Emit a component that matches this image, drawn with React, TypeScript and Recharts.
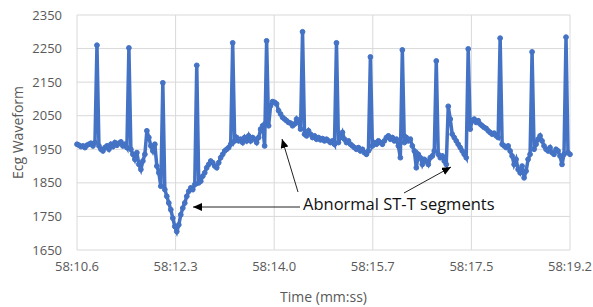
import React from 'react'
import { LineChart, Line, XAxis, YAxis, CartesianGrid } from 'recharts'

// ECG samples, evenly spaced from 58:10.6 to 58:19.2
const ecgSamples = [
  1965, 1962, 1958, 1960, 1955, 1962, 1965, 1968, 1960, 1970,
  2260,
  1960, 1950, 1945, 1955, 1960, 1950, 1965, 1958, 1970, 1962, 1968, 1972, 1960, 1965, 1955,
  2252,
  1950, 1935, 1920, 1940, 1905, 1890, 1915, 1935, 2005, 1985, 1960, 1945, 1965, 1900, 1880, 1840,
  2148,
  1830, 1810, 1790, 1770, 1745, 1720, 1705, 1725, 1755, 1775, 1790, 1810, 1825, 1835, 1830, 1845,
  2200,
  1850, 1855, 1870, 1880, 1895, 1905, 1915, 1910, 1900, 1895, 1910, 1925, 1935, 1945, 1950, 1955, 1965,
  2267,
  1975, 1985, 1975, 1980, 1970, 1985, 1975, 1990, 1975, 1985, 1980, 1970, 1985, 2010, 2020, 1960,
  2273,
  2020, 2080, 2092, 2090, 2085, 2065, 2055, 2045, 2040, 2035, 2030, 2028, 2020, 2025, 2040, 2030, 2010,
  2300,
  1995, 1990, 2005, 1995, 1985, 1990, 1980, 1985, 1978, 1982, 1975, 1980, 1975, 1970, 1975, 1965,
  2267,
  1970, 1985, 2000, 1980, 1970, 1975, 1965, 1960, 1955, 1950, 1955, 1945, 1950, 1940, 1935, 1945,
  2225,
  1960, 1970, 1965, 1975, 1970, 1965, 1975, 1985, 1990, 1980, 1985, 1975, 1980, 1960, 1925,
  2246,
  1970, 1985, 1975, 1980, 1960, 1945, 1895, 1935, 1925, 1905, 1920, 1915, 1905, 1925, 1930, 1945,
  2213,
  1935, 1925, 1930, 1915, 1905, 2078, 2040, 1995, 1985, 1975, 1965, 1955, 1945, 1935, 1925,
  2249,
  2010, 2035, 2040, 2030, 2035, 2025, 2020, 2015, 2012, 2005, 2000, 1995, 1998, 1990, 1985,
  2281,
  1965, 1960, 1955, 1960, 1945, 1930, 1905, 1920, 1890, 1880, 1900, 1865, 1885, 1920, 1935,
  2240,
  1950, 1965, 1980, 1990, 1975, 1960, 1950, 1945, 1955, 1940, 1935, 1950, 1945, 1930, 1905, 1935,
  2284,
  1940, 1935,
]

const startSec = 10.6
const endSec = 19.2
const timeTickLabels = ['58:10.6', '58:12.3', '58:14.0', '58:15.7', '58:17.5', '58:19.2']
const yTicks = [1650, 1750, 1850, 1950, 2050, 2150, 2250, 2350]

const step = (endSec - startSec) / (ecgSamples.length - 1)
const data = ecgSamples.map((v, i) => ({ t: startSec + i * step, v }))
const timeTicks = timeTickLabels.map(
  (_, i) => startSec + (i * (endSec - startSec)) / (timeTickLabels.length - 1)
)

const FONT = '"Open Sans", sans-serif'
const BLUE = '#4472C4'

export default function App() {
  return (
    <div style={{ position: 'absolute', left: 0, top: 0, width: 593, height: 307, background: '#fff' }}>
      <LineChart
        width={593}
        height={307}
        data={data}
        margin={{ top: 15, right: 23, left: 0, bottom: 0 }}
      >
        <CartesianGrid stroke="#d9d9d9" strokeWidth={1} />
        <XAxis
          dataKey="t"
          type="number"
          domain={[startSec, endSec]}
          ticks={timeTicks}
          tickFormatter={(_: number, i: number) => timeTickLabels[i]}
          interval={0}
          height={57}
          axisLine={false}
          tickLine={false}
          tickSize={0}
          tickMargin={12}
          tick={{ fontSize: 13, fill: '#595959', fontFamily: FONT }}
          label={{
            value: 'Time (mm:ss)',
            position: 'insideBottom',
            offset: 5,
            fontSize: 14,
            fill: '#595959',
            fontFamily: FONT,
          }}
        />
        <YAxis
          type="number"
          domain={[1650, 2350]}
          ticks={yTicks}
          interval={0}
          width={77}
          axisLine={false}
          tickLine={false}
          tickSize={0}
          tickMargin={15}
          tick={{ fontSize: 13, fill: '#595959', fontFamily: FONT }}
          label={{
            value: 'Ecg Waveform',
            angle: -90,
            position: 'insideLeft',
            offset: 18,
            style: { textAnchor: 'middle' },
            fontSize: 14,
            fill: '#595959',
            fontFamily: FONT,
          }}
        />
        <Line
          type="linear"
          dataKey="v"
          stroke={BLUE}
          strokeWidth={3.5}
          dot={{ r: 2.4, fill: BLUE, stroke: BLUE, strokeWidth: 1 }}
          isAnimationActive={false}
        />
      </LineChart>
      <svg
        width={593}
        height={307}
        style={{ position: 'absolute', left: 0, top: 0, pointerEvents: 'none' }}
      >
        <defs>
          <marker
            id="head"
            markerWidth={9}
            markerHeight={8}
            refX={9}
            refY={4}
            orient="auto"
            markerUnits="userSpaceOnUse"
          >
            <path d="M0,0 L9,4 L0,8 z" fill="#000" />
          </marker>
        </defs>
        <line x1={300} y1={207} x2={193} y2={207} stroke="#222" strokeWidth={1} markerEnd="url(#head)" />
        <line x1={298} y1={192} x2={282} y2={139} stroke="#222" strokeWidth={1} markerEnd="url(#head)" />
        <line x1={404} y1={193} x2={451} y2={167} stroke="#222" strokeWidth={1} markerEnd="url(#head)" />
        <text
          x={303}
          y={206}
          dominantBaseline="middle"
          fontSize={16.5}
          fontFamily={FONT}
          fill="#111"
        >
          Abnormal ST-T segments
        </text>
      </svg>
    </div>
  )
}
